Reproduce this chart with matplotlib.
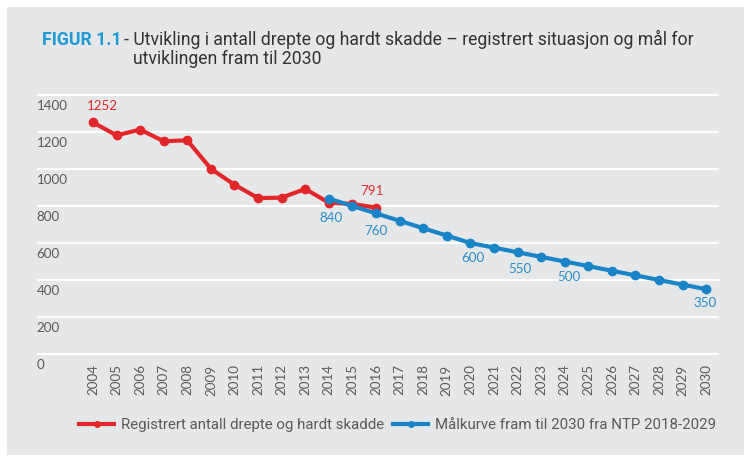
import matplotlib
matplotlib.use("Agg")
import matplotlib.pyplot as plt
from matplotlib import font_manager
from matplotlib.patches import Rectangle
from matplotlib.lines import Line2D

# data
years = list(range(2004, 2031))
reg_years = list(range(2004, 2017))
reg_values = [1252, 1182, 1213, 1150, 1155, 1001, 915, 843, 845, 892, 818, 811, 791]
mal_years = list(range(2014, 2031))
mal_values = [840, 800, 760, 720, 680, 640, 600, 575, 550, 525, 500, 475, 450, 425, 400, 375, 350]
y_ticks = [0, 200, 400, 600, 800, 1000, 1200, 1400]

reg_label_years = [2004, 2016]
mal_label_years = [2014, 2016, 2020, 2022, 2024, 2030]

title_tag = "FIGUR 1.1"
title_line1 = "- Utvikling i antall drepte og hardt skadde \u2013 registrert situasjon og mål for"
title_line2 = "utviklingen fram til 2030"
legend_reg = "Registrert antall drepte og hardt skadde"
legend_mal = "Målkurve fram til 2030 fra NTP 2018-2029"

RED = "#e2272b"
BLUE = "#1a84c8"
BLUE_TXT = "#2a8dcd"
TAG_BLUE = "#1e9ad6"
GREY_TXT = "#5a5a5a"
PANEL = "#e6e7e8"

installed = {f.name for f in font_manager.fontManager.ttflist}
narrow = "Liberation Sans Narrow" if "Liberation Sans Narrow" in installed else "Roboto"
num_font = "Lato"

W, H = 750, 463
fig = plt.figure(figsize=(W / 100, H / 100), dpi=100)
fig.patch.set_facecolor("white")
fig.patches.append(Rectangle((7 / W, 1 - 455 / H), (744 - 7) / W, (455 - 7) / H,
                             transform=fig.transFigure, facecolor=PANEL,
                             edgecolor="none", zorder=-5))

left, right, top, bottom = 38, 718, 95, 354
ax = fig.add_axes([left / W, 1 - bottom / H, (right - left) / W, (bottom - top) / H])
ax.set_zorder(1)
ax.set_facecolor("none")
ax.set_xlim(2001.67, 2030.5)
ax.set_ylim(0, 1400)
for s in ax.spines.values():
    s.set_visible(False)

for v in y_ticks:
    ax.axhline(v, color="white", lw=1.4, zorder=1, clip_on=False)

ax.plot(reg_years, reg_values, color=RED, lw=3, marker="o", ms=6, zorder=3)
ax.plot(mal_years, mal_values, color=BLUE, lw=3, marker="o", ms=6, zorder=4)

# y labels sit below their gridline, inside the plot area
ax.set_yticks([])
for v in y_ticks:
    ax.annotate(str(v), xy=(0, v), xycoords=("axes fraction", "data"),
                xytext=(-1, -8), textcoords="offset points", ha="left", va="center",
                fontsize=9.6, family=num_font, color=GREY_TXT)

ax.set_xticks(years)
ax.set_xticklabels([str(y) for y in years], rotation=90, va="top",
                   fontsize=9.6, family=num_font, color=GREY_TXT)
ax.tick_params(axis="x", length=0, pad=7.5)

# data labels (offsets in points)
reg_offsets = {2004: (6.5, 11.5), 2016: (-3, 12)}
mal_offsets = {2014: (1.5, -14), 2016: (0, -13), 2020: (2, -11),
               2022: (1.5, -12), 2024: (3, -11), 2030: (-0.5, -10)}
for yr in reg_label_years:
    val = reg_values[reg_years.index(yr)]
    ax.annotate(str(val), xy=(yr, val), xytext=reg_offsets[yr], textcoords="offset points",
                ha="center", va="center", fontsize=9.6, family=num_font, color=RED, zorder=5)
for yr in mal_label_years:
    val = mal_values[mal_years.index(yr)]
    ax.annotate(str(val), xy=(yr, val), xytext=mal_offsets[yr], textcoords="offset points",
                ha="center", va="center", fontsize=9.6, family=num_font, color=BLUE_TXT, zorder=5)

# title
tsize = 12.7
t1 = fig.text(42 / W, 1 - 45 / H, title_tag, fontsize=tsize, family=narrow, weight="bold",
              color=TAG_BLUE, va="baseline", ha="left")
fig.canvas.draw()
r = fig.canvas.get_renderer()
x_dash = t1.get_window_extent(r).x1 + 2
fig.text(x_dash / W, 1 - 45 / H, title_line1, fontsize=tsize, family=narrow,
         color="#333333", va="baseline", ha="left")
dash = fig.text(0, 0, "- ", fontsize=tsize, family=narrow)
dw = dash.get_window_extent(r).width
dash.remove()
fig.text((x_dash + dw) / W, 1 - 64 / H, title_line2, fontsize=tsize, family=narrow,
         color="#333333", va="baseline", ha="left")

# legend
handles = [Line2D([], [], color=RED, lw=3, marker="o", ms=4),
           Line2D([], [], color=BLUE, lw=3, marker="o", ms=4)]
fig.legend(handles, [legend_reg, legend_mal], loc="center", bbox_to_anchor=(398 / W, 1 - 425 / H),
           ncol=2, frameon=False, handlelength=2.3, handletextpad=0.5, columnspacing=0.6,
           prop={"family": narrow, "size": 10.8}, labelcolor=GREY_TXT)

fig.savefig("out.png", dpi=100, facecolor="white")
